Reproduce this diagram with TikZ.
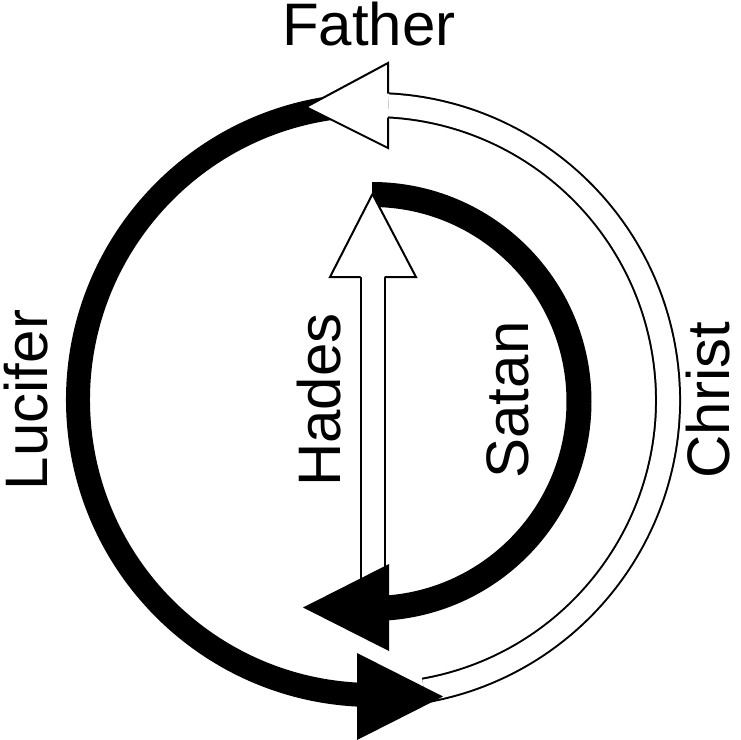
\documentclass[tikz,border=0pt]{standalone}
\usepackage{fontspec}
\setmainfont{Liberation Sans}

\begin{document}
\begin{tikzpicture}[x=0.5pt, y=-0.5pt,
  heavy/.style={line width=12pt},
  hollow/.style={double, double distance=11pt, line width=1pt},
  outline/.style={line width=1pt},
  txt/.style={font=\fontsize{30}{36}\selectfont, inner sep=0pt}]
\useasboundingbox (0,0) rectangle (741,740);

  % Christ
  \draw[hollow] (373,400) ++(80:295) arc[start angle=80, end angle=-87, radius=295];
  % Lucifer
  \draw[heavy] (373,400) ++(266:295) arc[start angle=266, end angle=92, radius=295];
  \fill (357,653) -- (443,696.5) -- (357,740) -- cycle;
  \fill[white] (388,63) -- (306,107) -- (388,148) -- cycle;
  \draw[outline] (388,93.7) -- (388,63) -- (306,107) -- (388,148) -- (388,117.7);

  % Hades
  \draw[hollow] (372.5,600) -- (372.5,277);
  % Satan
  \draw[line width=12.5pt] (372,194.5) arc[start angle=-90, end angle=87, radius=207];
  \fill (389,564) -- (303,607.5) -- (389,651) -- cycle;
  \fill[white] (330,277) -- (372.5,194) -- (416,277) -- cycle;
  \draw[outline] (360.5,277) -- (330,277) -- (372.5,194) -- (416,277) -- (384.5,277);

  \node[txt, anchor=base] (Father) at (369,45) {Father};
    \foreach \x/\name in {47/Lucifer, 340/Hades, 528/Satan, 729/Christ} {%
      % Rotated
      \node[txt, rotate=90, anchor=base] (\name) at (\x,400) {\name};
    }
\end{tikzpicture}
\end{document}
